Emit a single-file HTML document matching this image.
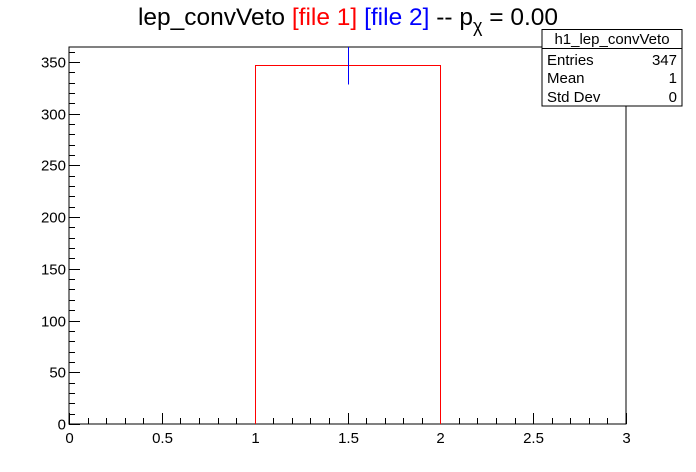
<!DOCTYPE html>
<html><head><meta charset="utf-8"><style>
body{margin:0;background:#fff;}
svg{display:block;font-family:"Liberation Sans",Arial,sans-serif;}
</style></head><body>
<svg id="c" width="696" height="472" viewBox="0 0 696 472">
<rect width="696" height="472" fill="#fff"/>
<text x="348" y="25" text-anchor="middle" font-size="24.5">lep_convVeto <tspan fill="#ff0000">[file 1]</tspan> <tspan fill="#0000ff">[file 2]</tspan> -- p<tspan font-size="18" dy="7">χ</tspan><tspan dy="-7"> = 0.00</tspan></text>
<g id="plot" shape-rendering="crispEdges"></g>
<g>
<rect x="542" y="29.5" width="140" height="76.5" fill="#fff" stroke="#000" stroke-width="1"/>
<line x1="542" y1="48.5" x2="682" y2="48.5" stroke="#000"/>
<text x="612" y="44" text-anchor="middle" font-size="15">h1_lep_convVeto</text>
<text x="547" y="65" font-size="15">Entries</text>
<text x="677" y="65" text-anchor="end" font-size="15">347</text>
<text x="547" y="83" font-size="15">Mean</text>
<text x="677" y="83" text-anchor="end" font-size="15">1</text>
<text x="547" y="102" font-size="15">Std Dev</text>
<text x="677" y="102" text-anchor="end" font-size="15">0</text>
</g>
</svg>
<script>
const binEdges=[1,2];
const file1Counts=[347];
const file2Counts=[347];
const file2Errors=[18.6];
const xTickLabels=["0","0.5","1","1.5","2","2.5","3"];
const yTickLabels=["0","50","100","150","200","250","300","350"];
const NS="http://www.w3.org/2000/svg";
const L=69,R=626,T=47,B=424,xmin=0,xmax=3,ymax=364.35;
const X=v=>Math.round(L+(v-xmin)/(xmax-xmin)*(R-L))+0.5;
const Y=v=>Math.round(B-v/ymax*(B-T))+0.5;
const g=document.getElementById('plot');
function el(t,a){const e=document.createElementNS(NS,t);for(const k in a)e.setAttribute(k,a[k]);g.appendChild(e);return e;}
// frame
const f=el('rect',{x:L,y:T,width:R-L,height:B-T,fill:'none',stroke:'#000','stroke-width':1});


// x ticks
for(let k=0;k<=30;k++){const v=k*0.1;const len=k%5==0?11:6;el('line',{x1:X(v),x2:X(v),y1:B,y2:B-len,stroke:'#000'});}
xTickLabels.forEach(s=>{const t=el('text',{x:X(parseFloat(s)),y:B+19,'text-anchor':'middle','font-size':15});t.textContent=s;
 
 });
// y ticks
for(let v=0;v<=ymax;v+=10){const len=v%50==0?11:6;el('line',{x1:L,x2:L+len,y1:Y(v),y2:Y(v),stroke:'#000'});}
yTickLabels.forEach(s=>{const t=el('text',{x:L-3,y:Y(parseFloat(s))+5,'text-anchor':'end','font-size':15});t.textContent=s;
 
 });
// histogram file1 and file2 error bars
for(let i=0;i<file1Counts.length;i++){
 const p=el('polyline',{points:`${X(binEdges[i])},${B} ${X(binEdges[i])},${Y(file1Counts[i])} ${X(binEdges[i+1])},${Y(file1Counts[i])} ${X(binEdges[i+1])},${B}`,fill:'none',stroke:'#ff0000','stroke-width':1});
 
 
 const xc=(binEdges[i]+binEdges[i+1])/2;
 const e=el('line',{x1:X(xc),x2:X(xc),y1:Math.min(B,Y(file2Counts[i]-file2Errors[i])),y2:Math.max(T,Y(file2Counts[i]+file2Errors[i])),stroke:'#0000ff','stroke-width':1.2});
 
 
}
</script>
</body></html>
